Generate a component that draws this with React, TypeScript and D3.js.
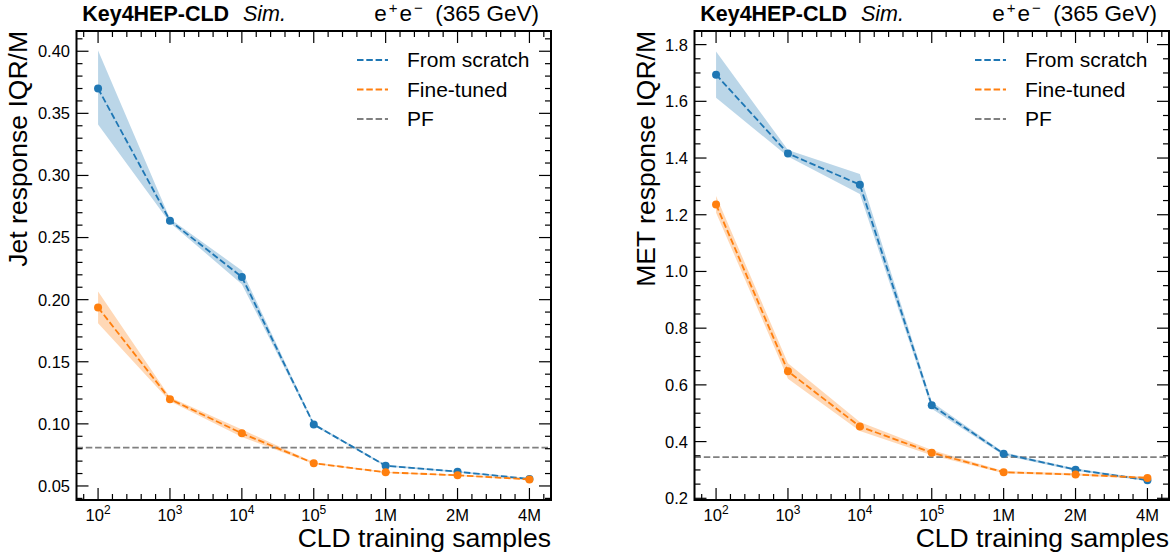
import React from "react";
import * as d3 from "d3";

// ---------- data ----------
const xTickBase = ["10", "10", "10", "10", "1M", "2M", "4M"];
const xTickSup = ["2", "3", "4", "5", "", "", ""];

const jetScratch = [0.370, 0.2636, 0.2183, 0.0995, 0.0663, 0.0615, 0.0556];
const jetScratchLo = [0.341, 0.2620, 0.2125, 0.0986, 0.0656, 0.0609, 0.0551];
const jetScratchHi = [0.4005, 0.2652, 0.2235, 0.1004, 0.0670, 0.0621, 0.0561];
const jetFine = [0.1937, 0.1199, 0.0924, 0.0683, 0.0610, 0.0586, 0.0553];
const jetFineLo = [0.181, 0.1183, 0.0894, 0.0676, 0.0605, 0.0581, 0.0548];
const jetFineHi = [0.2066, 0.1215, 0.0954, 0.0690, 0.0615, 0.0591, 0.0558];
const jetPF = 0.0808;

const metScratch = [1.694, 1.416, 1.306, 0.528, 0.357, 0.301, 0.264];
const metScratchLo = [1.613, 1.405, 1.273, 0.516, 0.352, 0.297, 0.260];
const metScratchHi = [1.776, 1.428, 1.344, 0.540, 0.362, 0.305, 0.268];
const metFine = [1.236, 0.648, 0.453, 0.361, 0.292, 0.284, 0.272];
const metFineLo = [1.207, 0.622, 0.437, 0.352, 0.288, 0.280, 0.268];
const metFineHi = [1.266, 0.676, 0.469, 0.370, 0.296, 0.288, 0.276];
const metPF = 0.345;

const jetYTicks = [0.05, 0.10, 0.15, 0.20, 0.25, 0.30, 0.35, 0.40];
const metYTicks = [0.2, 0.4, 0.6, 0.8, 1.0, 1.2, 1.4, 1.6, 1.8];

const legendLabels = ["From scratch", "Fine-tuned", "PF"];

// ---------- style ----------
const BLUE = "#1f77b4";
const ORANGE = "#ff7f0e";
const GREY = "#808080";
const FONT = "'Liberation Sans', Arial, Helvetica, sans-serif";
const DASH = "6.5,2.8";

type PanelProps = {
  left: number;
  right: number;
  top: number;
  bottom: number;
  yDomain: [number, number];
  yTicks: number[];
  yMinorStep: number;
  yFmt: (v: number) => string;
  ylabel: string;
  ylabelX: number;
  scratch: number[];
  scratchLo: number[];
  scratchHi: number[];
  fine: number[];
  fineLo: number[];
  fineHi: number[];
  pf: number;
};

function Panel(p: PanelProps) {
  const n = xTickBase.length;
  const idx = d3.range(n);
  const x = d3.scaleLinear().domain([-0.3, n - 1 + 0.3]).range([p.left, p.right]);
  const y = d3.scaleLinear().domain(p.yDomain).range([p.bottom, p.top]);

  const xMinor = d3
    .range(-0.2, n - 1 + 0.3, 0.2)
    .map((v) => Math.round(v * 10) / 10)
    .filter((v) => Math.abs(v - Math.round(v)) > 1e-6);
  const yMinor = d3
    .range(Math.ceil(p.yDomain[0] / p.yMinorStep) * p.yMinorStep, p.yDomain[1], p.yMinorStep)
    .map((v) => Math.round(v * 1000) / 1000)
    .filter((v) => !p.yTicks.some((t) => Math.abs(t - v) < 1e-6));

  const line = d3
    .line<number>()
    .x((_, i) => x(i))
    .y((d) => y(d));
  const area = (lo: number[], hi: number[]) =>
    d3
      .area<number>()
      .x((i) => x(i))
      .y0((i) => y(lo[i]))
      .y1((i) => y(hi[i]))(idx) || "";

  const MAJ = 12;
  const MIN = 6;
  const tickStroke = { stroke: "#000", strokeWidth: 1.2 };
  const series = [
    { vals: p.scratch, lo: p.scratchLo, hi: p.scratchHi, color: BLUE },
    { vals: p.fine, lo: p.fineLo, hi: p.fineHi, color: ORANGE },
  ];

  return (
    <g fontFamily={FONT}>
      {/* bands */}
      {series.map((s, k) => (
        <path key={"b" + k} d={area(s.lo, s.hi)} fill={s.color} fillOpacity={0.3} stroke="none" />
      ))}
      {/* PF */}
      <line x1={p.left} x2={p.right} y1={y(p.pf)} y2={y(p.pf)} stroke={GREY} strokeWidth={1.8} strokeDasharray={DASH} />
      {/* lines & markers */}
      {series.map((s, k) => (
        <g key={"s" + k}>
          <path d={line(s.vals) || ""} fill="none" stroke={s.color} strokeWidth={1.8} strokeDasharray={DASH} />
          {s.vals.map((v, i) => (
            <circle key={i} cx={x(i)} cy={y(v)} r={4} fill={s.color} />
          ))}
        </g>
      ))}

      {/* ticks */}
      {idx.map((i) => (
        <g key={"xt" + i}>
          <line x1={x(i)} x2={x(i)} y1={p.bottom} y2={p.bottom - MAJ} {...tickStroke} />
          <line x1={x(i)} x2={x(i)} y1={p.top} y2={p.top + MAJ} {...tickStroke} />
        </g>
      ))}
      {xMinor.map((v, i) => (
        <g key={"xm" + i}>
          <line x1={x(v)} x2={x(v)} y1={p.bottom} y2={p.bottom - MIN} {...tickStroke} />
          <line x1={x(v)} x2={x(v)} y1={p.top} y2={p.top + MIN} {...tickStroke} />
        </g>
      ))}
      {p.yTicks.map((t, i) => (
        <g key={"yt" + i}>
          <line x1={p.left} x2={p.left + MAJ} y1={y(t)} y2={y(t)} {...tickStroke} />
          <line x1={p.right} x2={p.right - MAJ} y1={y(t)} y2={y(t)} {...tickStroke} />
        </g>
      ))}
      {yMinor.map((t, i) => (
        <g key={"ym" + i}>
          <line x1={p.left} x2={p.left + MIN} y1={y(t)} y2={y(t)} {...tickStroke} />
          <line x1={p.right} x2={p.right - MIN} y1={y(t)} y2={y(t)} {...tickStroke} />
        </g>
      ))}

      {/* frame */}
      <rect x={p.left} y={p.top} width={p.right - p.left} height={p.bottom - p.top} fill="none" stroke="#000" strokeWidth={2} />

      {/* tick labels */}
      {p.yTicks.map((t, i) => (
        <text key={"yl" + i} x={p.left - 6.5} y={y(t)} dy="0.36em" textAnchor="end" fontSize={16.5}>
          {p.yFmt(t)}
        </text>
      ))}
      {idx.map((i) => (
        <text key={"xl" + i} x={x(i)} y={p.bottom + 20.5} textAnchor="middle" fontSize={16.5}>
          {xTickBase[i]}
          {xTickSup[i] ? (
            <tspan dy={-7} fontSize={12}>
              {xTickSup[i]}
            </tspan>
          ) : null}
        </text>
      ))}

      {/* axis labels */}
      <text x={p.right} y={547} textAnchor="end" fontSize={26.5}>
        CLD training samples
      </text>
      <text
        transform={`translate(${p.ylabelX},${p.top}) rotate(-90)`}
        textAnchor="end"
        fontSize={26.5}
      >
        {p.ylabel}
      </text>

      {/* header */}
      <text x={p.left + 5.7} y={21} fontSize={21.5} fontWeight="bold">
        Key4HEP-CLD
      </text>
      <text x={p.left + 166.5} y={21} fontSize={21.5} fontStyle="italic">
        Sim.
      </text>
      <text x={p.right - 12} y={21} fontSize={22.5} textAnchor="end" style={{ whiteSpace: "pre" }}>
        e
        <tspan dx={2} dy={-8} fontSize={15}>+</tspan>
        <tspan dx={2} dy={8}>e</tspan>
        <tspan dx={2} dy={-8} fontSize={15}>−</tspan>
        <tspan dy={8}>{"  (365 GeV)"}</tspan>
      </text>

      {/* legend */}
      {legendLabels.map((lab, k) => {
        const ly = 60 + k * 29.5;
        const col = [BLUE, ORANGE, GREY][k];
        return (
          <g key={"lg" + k}>
            <line x1={p.right - 194} x2={p.right - 163} y1={ly} y2={ly} stroke={col} strokeWidth={1.8} strokeDasharray={DASH} />
            <text x={p.right - 144} y={ly + 7.4} fontSize={21}>
              {lab}
            </text>
          </g>
        );
      })}
    </g>
  );
}

export default function App() {
  return (
    <svg
      width={1173}
      height={559}
      viewBox="0 0 1173 559"
      style={{ position: "absolute", left: 0, top: 0, background: "#fff" }}
    >
      <rect width={1173} height={559} fill="#fff" />
      <Panel
        left={76.5}
        right={551}
        top={31}
        bottom={500}
        yDomain={[0.0387, 0.4163]}
        yTicks={jetYTicks}
        yMinorStep={0.01}
        yFmt={(v) => v.toFixed(2)}
        ylabel="Jet response IQR/M"
        ylabelX={27}
        scratch={jetScratch}
        scratchLo={jetScratchLo}
        scratchHi={jetScratchHi}
        fine={jetFine}
        fineLo={jetFineLo}
        fineHi={jetFineHi}
        pf={jetPF}
      />
      <Panel
        left={694.5}
        right={1169}
        top={31}
        bottom={500}
        yDomain={[0.194, 1.848]}
        yTicks={metYTicks}
        yMinorStep={0.05}
        yFmt={(v) => v.toFixed(1)}
        ylabel="MET response IQR/M"
        ylabelX={655}
        scratch={metScratch}
        scratchLo={metScratchLo}
        scratchHi={metScratchHi}
        fine={metFine}
        fineLo={metFineLo}
        fineHi={metFineHi}
        pf={metPF}
      />
    </svg>
  );
}
